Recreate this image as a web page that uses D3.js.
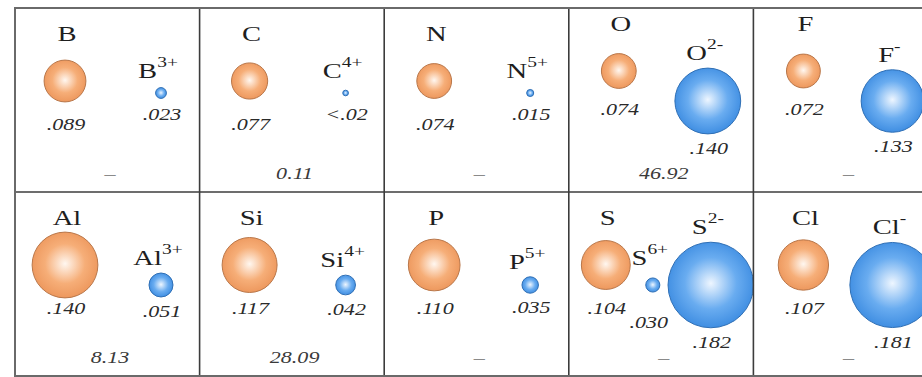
<!DOCTYPE html>
<html>
<head>
<meta charset="utf-8">
<script src="https://cdn.jsdelivr.net/npm/d3@7"></script>
<style>
  html, body { margin: 0; padding: 0; background: #ffffff; }
  svg { display: block; }
</style>
</head>
<body>
<svg id="chart" width="922" height="377"></svg>
<script>
/* ========================= DATA ======================== */
/* ======================================================= */

const elements    = ["B", "C", "N", "O", "F", "Al", "Si", "P", "S", "Cl"];
const atomRadii   = [0.089, 0.077, 0.074, 0.074, 0.072, 0.140, 0.117, 0.110, 0.104, 0.107];
const atomLabels  = [".089", ".077", ".074", ".074", ".072", ".140", ".117", ".110", ".104", ".107"];
const ionCharges  = [["3+"], ["4+"], ["5+"], ["2-"], ["-"], ["3+"], ["4+"], ["5+"], ["6+", "2-"], ["-"]];
const ionRadii    = [[0.023], [0.012], [0.015], [0.140], [0.133], [0.051], [0.042], [0.035], [0.030, 0.182], [0.181]];
const ionLabels   = [[".023"], ["<.02"], [".015"], [".140"], [".133"], [".051"], [".042"], [".035"], [".030", ".182"], [".181"]];
const bottomNotes = ["\u2013", "0.11", "\u2013", "46.92", "\u2013", "8.13", "28.09", "\u2013", "\u2013", "\u2013"];

/* ======================================================= */
/* ======================= END DATA ====================== */


/* ======================== SETUP ======================== */
/* ======================================================= */

const svg = d3.select("#chart");

const colScale = d3.scaleBand()
                   .domain(d3.range(5))
                   .range([15, 938]);
const rowScale = d3.scaleBand()
                   .domain(d3.range(2))
                   .range([8, 376]);
const rScale   = d3.scaleLinear()
                   .domain([0, 0.2])
                   .range([0, 47]);

const textStretch = 1.3;
const serif = "'Liberation Serif', 'Times New Roman', serif";

let defs = svg.append("defs");
makeGradient("atomGrad", "#fff7f0", "#f6ae78", "#ec955a");
makeGradient("ionGrad",  "#eef6ff", "#69acf0", "#3a8ae0");

let cells = elements.map((el, i) => {
    let row = Math.floor(i / 5);
    let col = i % 5;
    let anion = ionCharges[i].some(c => c.endsWith("-"));
    let count = 1 + ionRadii[i].length;
    let lift = (row === 0 && anion) ? 10 : 0;
    let slots = count === 2 ? [50, anion ? 139 : 146] : [37, 84, 142];
    return {
        i: i, row: row, col: col, anion: anion, lift: lift, slots: slots,
        x0: colScale(col), y0: rowScale(row)
    };
});

/* ======================================================= */
/* ===================== END OF SETUP ==================== */


/* ======================== SPHERES ====================== */
/* ======================================================= */

let atomData = cells.map(c => ({
    cell: c, r: rScale(atomRadii[c.i]),
    cx: c.x0 + c.slots[0], cy: c.y0 + 73 - c.lift
}));

let ionData = [];
cells.forEach(c => {
    ionRadii[c.i].forEach((v, k) => {
        let ionDy = (c.row === 0 && !c.anion) ? 85 : 93;
        ionData.push({
            cell: c, k: k, r: rScale(v),
            charge: ionCharges[c.i][k], label: ionLabels[c.i][k],
            cx: c.x0 + c.slots[k + 1], cy: c.y0 + ionDy,
            dropValue: (ionRadii[c.i].length > 1 && k === 0) ? 16 : 0
        });
    });
});

svg.append("g")
   .attr("id", "atomView")
   .selectAll("circle")
   .data(atomData)
   .join("circle")
   .attr("cx", d => d.cx)
   .attr("cy", d => d.cy)
   .attr("r", d => d.r)
   .attr("fill", "url(#atomGrad)")
   .attr("stroke", "#b9774a")
   .attr("stroke-width", 1);

svg.append("g")
   .attr("id", "ionView")
   .selectAll("circle")
   .data(ionData)
   .join("circle")
   .attr("cx", d => d.cx)
   .attr("cy", d => d.cy)
   .attr("r", d => d.r)
   .attr("fill", "url(#ionGrad)")
   .attr("stroke", "#2f6fb5")
   .attr("stroke-width", 1);

/* ======================================================= */
/* ==================== END OF SPHERES =================== */


/* ========================= TEXT ======================== */
/* ======================================================= */

let textView = svg.append("g").attr("id", "textView");

// element symbols
stretchedText(textView, atomData, d => d.cx + 2, d => d.cell.y0 + 26 - d.cell.lift + 7)
    .attr("font-size", 22)
    .attr("fill", "#1e1e1e")
    .text(d => elements[d.cell.i]);

// atom radius values
stretchedText(textView, atomData, d => d.cx + 1, d => d.cell.y0 + 116 - d.cell.lift * 1.5 + 6)
    .attr("font-size", 17)
    .attr("font-style", "italic")
    .attr("fill", "#2a2a2a")
    .text(d => atomLabels[d.cell.i]);

// ion symbols with superscript charge
let ionSymbols = stretchedText(textView, ionData,
                               d => d.cx - 3,
                               d => d.cy - Math.max(d.r, 7) - 15 + 7 - (d.dropValue ? 5 : 0))
    .attr("font-size", 22)
    .attr("fill", "#1e1e1e");
ionSymbols.append("tspan")
          .text(d => elements[d.cell.i]);
ionSymbols.append("tspan")
          .attr("font-size", 15)
          .attr("dy", -11)
          .text(d => d.charge);

// ion radius values
stretchedText(textView, ionData,
              d => d.cx + (d.dropValue ? -4 : 1),
              d => d.cy + Math.max(d.r, 7) + 14 + 6 + d.dropValue)
    .attr("font-size", 17)
    .attr("font-style", "italic")
    .attr("fill", "#2a2a2a")
    .text(d => d.label);

// bottom notes
stretchedText(textView, cells, d => d.x0 + 95, d => d.y0 + 165 + 6)
    .attr("font-size", 17)
    .attr("font-style", "italic")
    .attr("fill", d => bottomNotes[d.i] === "\u2013" ? "#8a8a8a" : "#3a3a3a")
    .text(d => bottomNotes[d.i]);

/* ======================================================= */
/* ===================== END OF TEXT ===================== */


/* ========================= GRID ======================== */
/* ======================================================= */

let gridView = svg.append("g").attr("id", "gridView");

gridView.selectAll("line.vDiv")
        .data(d3.range(1, 5))
        .join("line")
        .attr("class", "vDiv")
        .attr("x1", d => colScale(d))
        .attr("x2", d => colScale(d))
        .attr("y1", rowScale.range()[0])
        .attr("y2", rowScale.range()[1])
        .attr("stroke", "#3c3c3c")
        .attr("stroke-width", 1.6);

gridView.append("line")
        .attr("x1", colScale.range()[0])
        .attr("x2", colScale.range()[1])
        .attr("y1", rowScale(1))
        .attr("y2", rowScale(1))
        .attr("stroke", "#3c3c3c")
        .attr("stroke-width", 1.6);

gridView.append("rect")
        .attr("x", colScale.range()[0])
        .attr("y", rowScale.range()[0])
        .attr("width", colScale.range()[1] - colScale.range()[0])
        .attr("height", rowScale.range()[1] - rowScale.range()[0])
        .attr("fill", "none")
        .attr("stroke", "#6a6a6a")
        .attr("stroke-width", 2);

/* ======================================================= */
/* ===================== END OF GRID ===================== */


/* =================== HELPER FUNCTIONS ================== */
/* ======================================================= */

function makeGradient(id, c0, c1, c2) {
    let g = defs.append("radialGradient")
                .attr("id", id)
                .attr("cx", "50%")
                .attr("cy", "48%")
                .attr("r", "55%");
    g.append("stop").attr("offset", "0%").attr("stop-color", c0);
    g.append("stop").attr("offset", "55%").attr("stop-color", c1);
    g.append("stop").attr("offset", "100%").attr("stop-color", c2);
}

function stretchedText(parent, data, fx, fy) {
    return parent.append("g")
                 .selectAll("text")
                 .data(data)
                 .join("text")
                 .attr("transform", d => `translate(${fx(d)},${fy(d)}) scale(${textStretch},1)`)
                 .attr("text-anchor", "middle")
                 .attr("font-family", serif);
}

/* ======================================================= */
/* =============== END OF HELPER FUNCTIONS =============== */
</script>
</body>
</html>
